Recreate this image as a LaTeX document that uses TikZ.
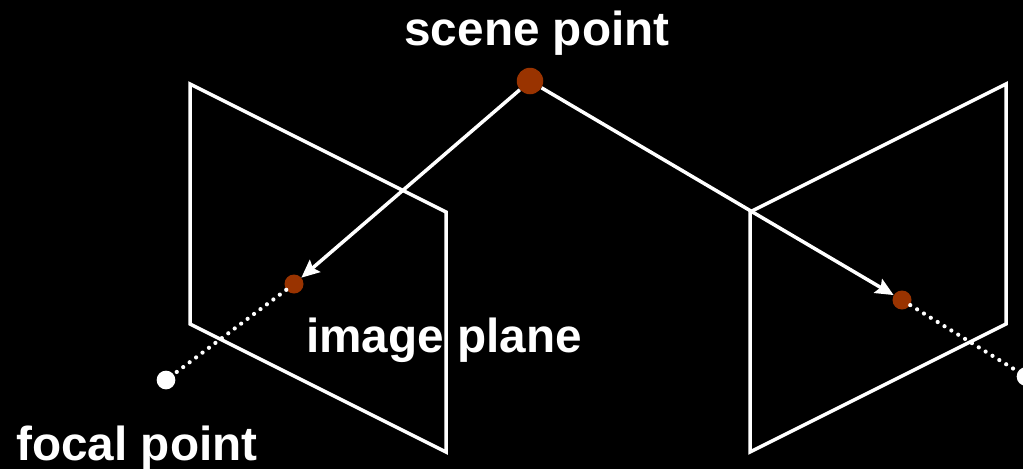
\documentclass[tikz,border=0pt]{standalone}
\usepackage{fontspec}
\setmainfont{Liberation Sans}
\usetikzlibrary{arrows.meta}
\definecolor{ptred}{HTML}{993300}
\tikzset{
 px/.style={x=1pt,y=-1pt},
 plane/.style={draw=white,line width=3.5pt,line join=miter},
 ray/.style={draw=white,line width=3.5pt,-{Stealth[length=18pt,width=16pt,inset=3pt]}},
 dots/.style={draw=white,line width=4.2pt,line cap=round,dash pattern=on 0pt off 8.05pt},
 lab/.style={text=white,font=\bfseries\fontsize{47.7}{52}\selectfont,inner sep=0pt,anchor=base},
 redpt/.style={circle,fill=ptred,inner sep=0pt},
 whitept/.style={circle,fill=white,inner sep=0pt,minimum size=18.7pt}
}
\begin{document}
\begin{tikzpicture}[px]
\useasboundingbox[fill=black] (0,0) rectangle (1023,469);
\clip (0,0) rectangle (1023,469);
\coordinate (a1) at (190,84); \coordinate (a2) at (446,212); \coordinate (a3) at (446,452); \coordinate (a4) at (190,324);
\coordinate (b1) at (1006,84); \coordinate (b2) at (750,212); \coordinate (b3) at (750,452); \coordinate (b4) at (1006,324);
\draw[plane] (a1) -- (a2) -- (a3) -- (a4) -- cycle;
\draw[plane] (b1) -- (b2) -- (b3) -- (b4) -- cycle;
\node[redpt,minimum size=26.5pt] (s) at (530,81) {};
\node[redpt,minimum size=19pt] (l) at (294,284) {};
\node[redpt,minimum size=19pt] (r) at (902,300) {};
\node[whitept] (fl) at (166,380) {};
\node[whitept] (fr) at (1026,376.5) {};
\draw[dots] (l) -- (fl);
\draw[dots] (r) -- (fr);
\draw[ray] (s) -- (l);
\draw[ray] (s) -- (r);
\node[lab] (t1) at (537,45) {scene point};
\node[lab] (t2) at (444,352) {image plane};
\node[lab] (t3) at (137,460) {focal point};
\end{tikzpicture}
\end{document}
